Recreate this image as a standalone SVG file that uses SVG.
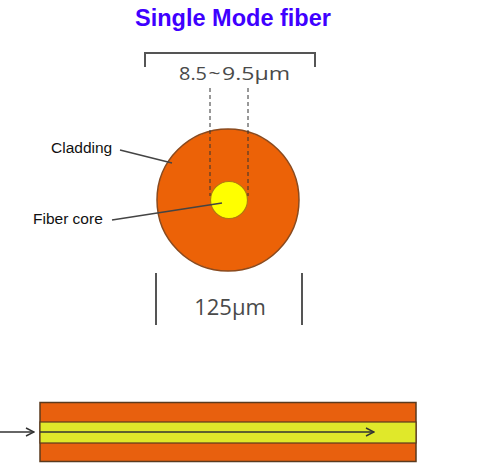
<svg xmlns="http://www.w3.org/2000/svg" width="480" height="465" viewBox="0 0 480 465">
<defs>
<style>
.lbl{font-family:"Liberation Sans",Arial,sans-serif;fill:#111;font-size:15.5px}
.dim{font-family:"Open Sans","DejaVu Sans",sans-serif;fill:#4a4a4a}
.dimln{stroke:#555;stroke-width:2;fill:none}
.lead{stroke:#444;stroke-width:1.5;fill:none}
.dash{stroke:#333;stroke-width:1;stroke-dasharray:4 3;fill:none}
.clad{fill:#EC6207;stroke:#8A4A1E;stroke-width:1.5}
.core{fill:#FFFF00;stroke:#B07A10;stroke-width:1.2}
</style>
<marker id="ah" viewBox="0 0 10 10" refX="9" refY="5" markerWidth="10" markerHeight="10" markerUnits="userSpaceOnUse" orient="auto">
<path d="M1,1 L9,5 L1,9" fill="none" stroke="#333" stroke-width="1.4"/>
</marker>
</defs>
<rect width="480" height="465" fill="#FFFFFF"/>
<text x="233" y="26" text-anchor="middle" font-family="'Liberation Sans',Arial,sans-serif" font-weight="bold" font-size="23.5" fill="#3F00FF">Single Mode fiber</text>

<g id="dim-core">
<path class="dimln" d="M145,67 V53 H315 V67"/>
<text class="dim" y="80" font-size="18"><tspan x="179" textLength="28" lengthAdjust="spacingAndGlyphs">8.5</tspan><tspan x="208.5" textLength="12" lengthAdjust="spacingAndGlyphs">~</tspan><tspan x="222" textLength="68" lengthAdjust="spacingAndGlyphs">9.5µm</tspan></text>
</g>

<g id="cross-section">
<circle class="clad" cx="228" cy="200" r="71"/>
<circle class="core" cx="229" cy="200" r="18.5"/>
</g>

<g id="connectors">
<line class="dash" x1="210" y1="88" x2="210" y2="196"/>
<line class="dash" x1="248" y1="88" x2="248" y2="196"/>
<line class="lead" x1="120" y1="150" x2="172" y2="163"/>
<line class="lead" x1="112" y1="220" x2="222" y2="203"/>
</g>

<g id="label-cladding">
<text class="lbl" x="51" y="153">Cladding</text>
</g>
<g id="label-core">
<text class="lbl" x="33" y="224">Fiber core</text>
</g>

<g id="dim-clad">
<line class="dimln" x1="156" y1="273" x2="156" y2="325"/>
<line class="dimln" x1="302" y1="273" x2="302" y2="325"/>
<text class="dim" x="230" y="315" text-anchor="middle" font-size="22">125µm</text>
</g>

<g id="fiber-side">
<rect x="40" y="402.5" width="376" height="59" fill="#E8600E" stroke="#5A3A1E" stroke-width="1.5"/>
<rect x="40" y="422" width="376" height="21" fill="#E0E82A" stroke="#5A3A1E" stroke-width="1.2"/>
<line x1="40" y1="432" x2="374" y2="432" stroke="#333" stroke-width="1.4" marker-end="url(#ah)"/>
<line x1="0" y1="432" x2="34" y2="432" stroke="#333" stroke-width="1.4" marker-end="url(#ah)"/>
</g>
</svg>
